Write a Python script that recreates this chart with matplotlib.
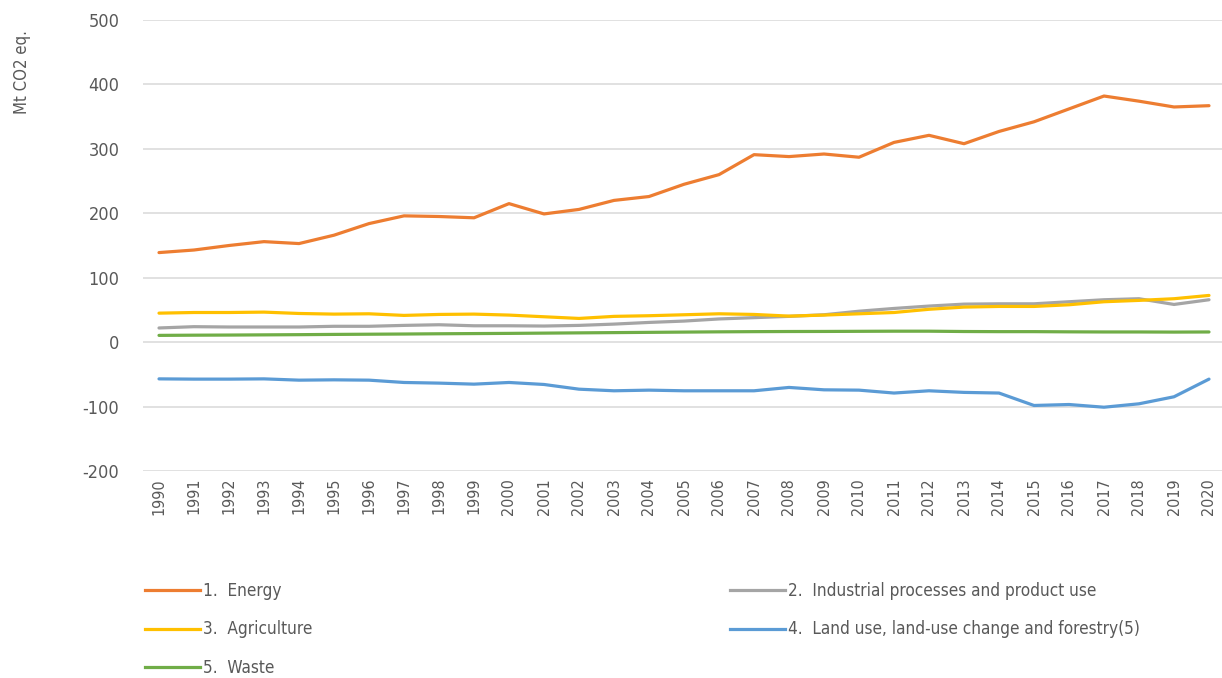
import matplotlib
matplotlib.use("Agg")
import matplotlib.pyplot as plt
from matplotlib.lines import Line2D

years = list(range(1990, 2021))
energy = [139, 143, 150, 156, 153, 166, 184, 196, 195, 193, 215, 199, 206, 220, 226,
          245, 260, 291, 288, 292, 287, 310, 321, 308, 327, 342, 362, 382, 374, 365, 367]
industrial = [22, 24, 23.5, 23.5, 23.5, 24.6, 24.6, 26, 27, 25.4, 25.4, 25, 26, 28, 30.6,
              32.7, 36, 38, 40, 42.5, 48, 52.3, 56, 59, 59.5, 59.5, 62.7, 65.8, 67.4, 58.5, 65.8]
agriculture = [45, 46, 46, 46.6, 44.5, 43.5, 44, 41.5, 43, 43.5, 42, 39.4, 36.8, 40, 41,
               42.5, 44, 43, 40.4, 42, 44, 46, 51, 54.4, 55.4, 55.4, 58, 62.7, 64.8, 67.4, 72.5]
lulucf = [-57, -57.4, -57.4, -57, -59, -58.5, -59, -62.6, -63.6, -65.2, -62.6, -65.7, -73, -75.5, -74.5,
          -75.5, -75.5, -75.5, -70.3, -74, -74.5, -79, -75.5, -78, -79, -98.3, -96.8, -101, -95.7, -84.8, -57.4]
waste = [10.5, 10.8, 11, 11.3, 11.6, 12, 12.3, 12.6, 13, 13.3, 13.6, 14, 14.4, 14.8, 15.2,
         15.6, 16, 16.3, 16.5, 16.6, 16.8, 17, 17, 16.5, 16.3, 16.3, 16, 15.8, 15.8, 15.6, 15.8]

labels = ["1.  Energy", "2.  Industrial processes and product use", "3.  Agriculture",
          "4.  Land use, land-use change and forestry(5)", "5.  Waste"]
colors = ["#ED7D31", "#A5A5A5", "#FFC000", "#5B9BD5", "#70AD47"]
series = [energy, industrial, agriculture, lulucf, waste]
yticks = [-200, -100, 0, 100, 200, 300, 400, 500]

TXT = "#595959"
plt.rcParams["font.family"] = ["DejaVu Sans"]
plt.rcParams["font.stretch"] = "condensed"
plt.rcParams["font.weight"] = "light"

W, H = 1222, 678
fig = plt.figure(figsize=(W / 100, H / 100), dpi=100)
ax = fig.add_axes([143 / W, 1 - 471 / H, (1222 - 143) / W, (471 - 20) / H])

for s, c, lab in zip(series, colors, labels):
    ax.plot(years, s, color=c, lw=2.3, label=lab, solid_capstyle="round")

ax.set_ylim(-200, 500)
ax.set_xlim(1990 - 16 / 35, 2020 + 13 / 35)
ax.set_yticks(yticks)
ax.set_yticklabels([str(v) for v in yticks])
ax.set_xticks(years)
ax.set_xticklabels([str(y) for y in years], rotation=90, va="top")
ax.grid(axis="y", color="#D9D9D9", lw=1.1)
ax.set_axisbelow(True)
for sp in ax.spines.values():
    sp.set_visible(False)
ax.tick_params(axis="y", length=0, pad=17, labelsize=13, labelcolor=TXT)
ax.tick_params(axis="x", length=0, pad=5, labelsize=11.5, labelcolor=TXT)

fig.text(22 / W, 1 - 72 / H, "Mt CO2 eq.", rotation=90, ha="center", va="center",
         fontsize=12, color=TXT)

def mk(i):
    return Line2D([0], [0], color=colors[i], lw=2.3)

common = dict(loc="upper left", frameon=False, fontsize=12.3, labelcolor=TXT,
              handlelength=3.2, handletextpad=0.2, borderpad=0, borderaxespad=0,
              labelspacing=1.2)
fig.legend([mk(0), mk(2), mk(4)], [labels[0], labels[2], labels[4]],
           bbox_to_anchor=(145 / W, 1 - 582 / H), **common)
fig.legend([mk(1), mk(3)], [labels[1], labels[3]],
           bbox_to_anchor=(730 / W, 1 - 582 / H), **common)

fig.savefig("out.png", dpi=100)
